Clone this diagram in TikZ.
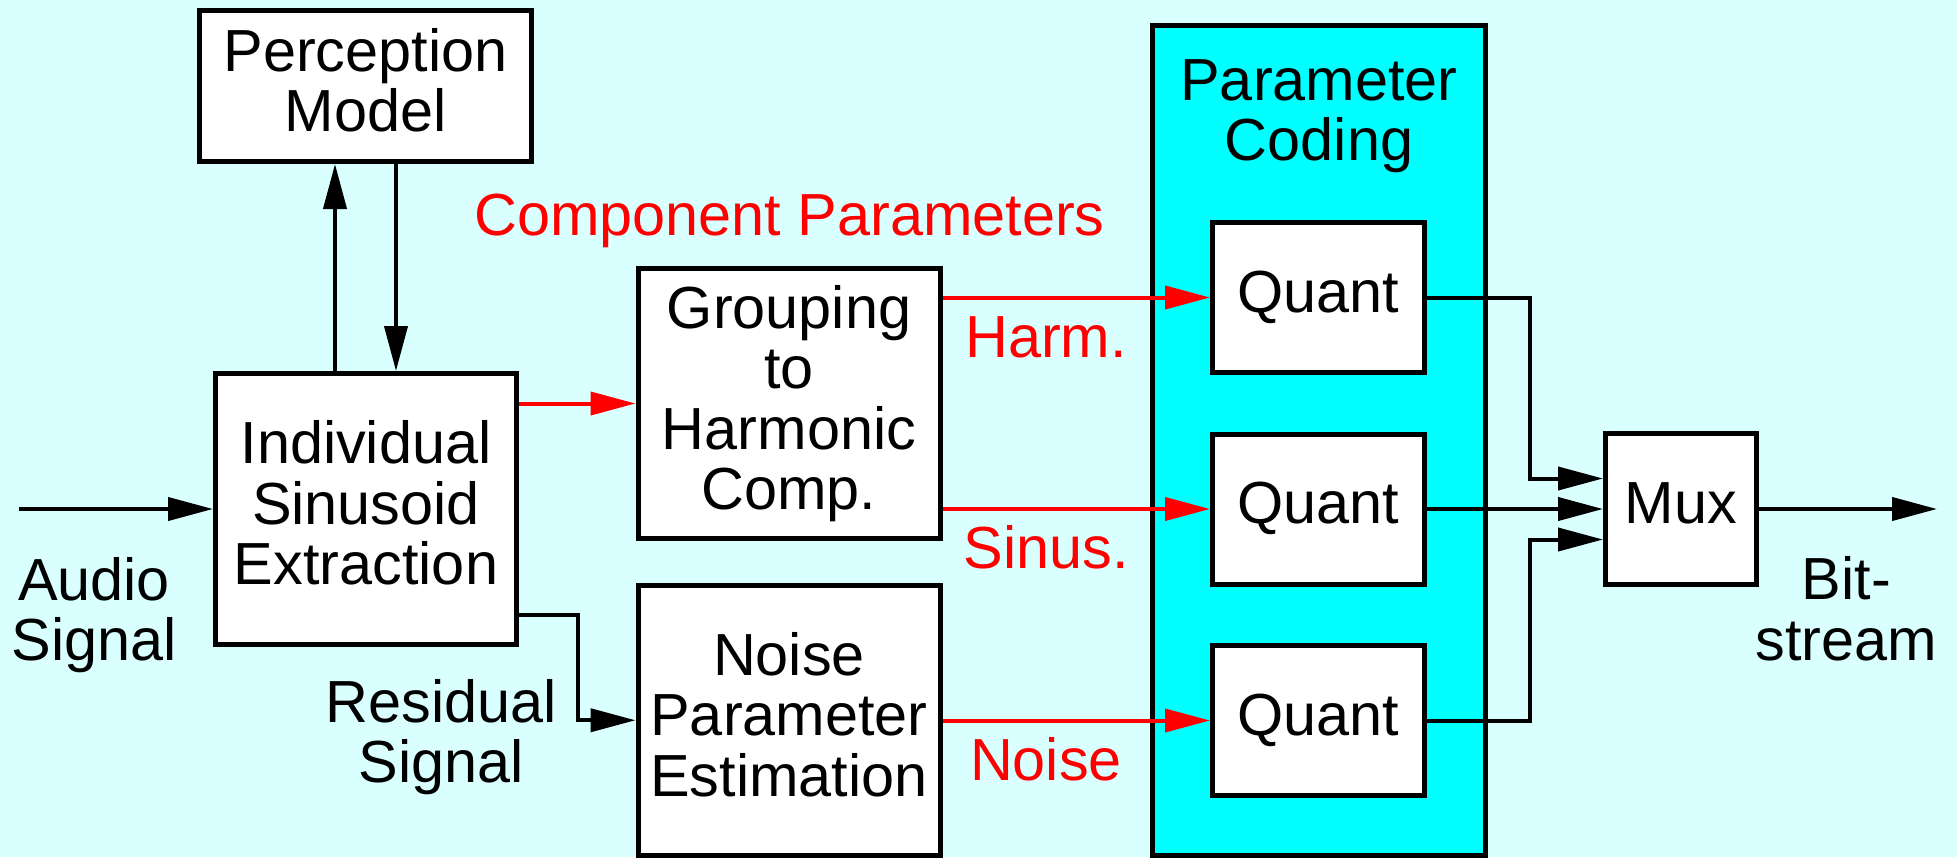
\documentclass[tikz,border=0pt]{standalone}
\usepackage{fontspec}
\setmainfont{Liberation Sans}
\usetikzlibrary{arrows.meta}
\definecolor{bgcyan}{RGB}{217,255,255}
\definecolor{pcyan}{RGB}{0,255,255}
\definecolor{lred}{RGB}{255,0,0}
\begin{document}
\begin{tikzpicture}[x=0.5pt,y=-0.5pt,
  every node/.style={font=\fontsize{29.7pt}{30.25pt}\selectfont},
  blk/.style={draw=black,line width=2.5pt,fill=white,inner sep=0pt,align=center,
    execute at end node={\vphantom{g}}},
  lbl/.style={inner sep=0pt,align=center},
  rlbl/.style={lbl,text=lred},
  arr/.style={line width=2pt,draw=black,-{Triangle[length=22.5pt,width=11.5pt]}},
  rarr/.style={arr,draw=lred,fill=lred}]
\useasboundingbox (0,0) rectangle (1957,857);
\fill[bgcyan] (0,0) rectangle (1957,857);

% Parameter coding container
\node[draw=black,line width=2.5pt,fill=pcyan,inner sep=0pt,
  minimum width=166.25pt,minimum height=414.75pt] (pcod) at (1318.75,440.25) {};
\node[lbl] (pcodt) at (1319,116) {Parameter\\Coding};

% blocks
\node[blk,minimum width=166pt,minimum height=75.5pt] (percep) at (365.5,86) {Perception\\Model};
\node[blk,minimum width=150.5pt,minimum height=135.5pt] (indiv) at (366,509) {Individual\\Sinusoid\\Extraction};
\node[blk,minimum width=151pt,minimum height=135pt] (group) at (789,403.5) {Grouping\\to\\Harmonic\\Comp.};
\node[blk,minimum width=151pt,minimum height=134.75pt] (noise) at (789,720.25) {Noise\\Parameter\\Estimation};
\node[blk,minimum width=106pt,minimum height=75pt] (q1) at (1318.5,297.5) {Quant};
\node[blk,minimum width=106pt,minimum height=75pt] (q2) at (1318.5,509) {Quant};
\node[blk,minimum width=106pt,minimum height=75pt] (q3) at (1318.5,720.5) {Quant};
\node[blk,minimum width=75.5pt,minimum height=75.5pt] (mux) at (1681,509) {Mux};

% labels
\node[lbl] (audio) at (94,615) {Audio\\Signal};
\node[lbl] (resid) at (441,737) {Residual\\Signal};
\node[lbl] (bits) at (1846.5,609) {Bit-\\stream};
\node[rlbl] (comp) at (789.5,221) {Component Parameters};
\node[rlbl] (harm) at (1046,337.5) {Harm.};
\node[rlbl] (sinus) at (1046,547.5) {Sinus.};
\node[rlbl] (nlab) at (1046,759) {Noise};

% coordinates
\coordinate (ain) at (19,509);
\coordinate (rb) at (578,615);
\coordinate (mx) at (1530,509);
\coordinate (bout) at (1937,509);
\coordinate (m1) at ([yshift=15.25pt]mux.west);
\coordinate (m3) at ([yshift=-15.25pt]mux.west);

% connectors
\draw[arr] (ain) -- (indiv.west);
\draw[arr] ([xshift=-15.5pt]indiv.north) -- ([xshift=-15.5pt]indiv.north |- percep.south);
\draw[arr] ([xshift=15.25pt]percep.south) -- ([xshift=15.25pt]percep.south |- indiv.north);
\draw[rarr] (indiv.east |- group.west) -- (group.west);
\draw[arr] (indiv.east |- rb) -- (rb) |- (noise.west);
\draw[rarr] (group.east |- q1.west) -- (q1.west);
\draw[rarr] (group.east |- q2.west) -- (q2.west);
\draw[rarr] (noise.east |- q3.west) -- (q3.west);
\draw[arr] (q1.east) -- (q1.east -| mx) |- (m1);
\draw[arr] (q2.east) -- (mux.west);
\draw[arr] (q3.east) -- (q3.east -| mx) |- (m3);
\draw[arr] (mux.east) -- (bout);
\end{tikzpicture}
\end{document}
